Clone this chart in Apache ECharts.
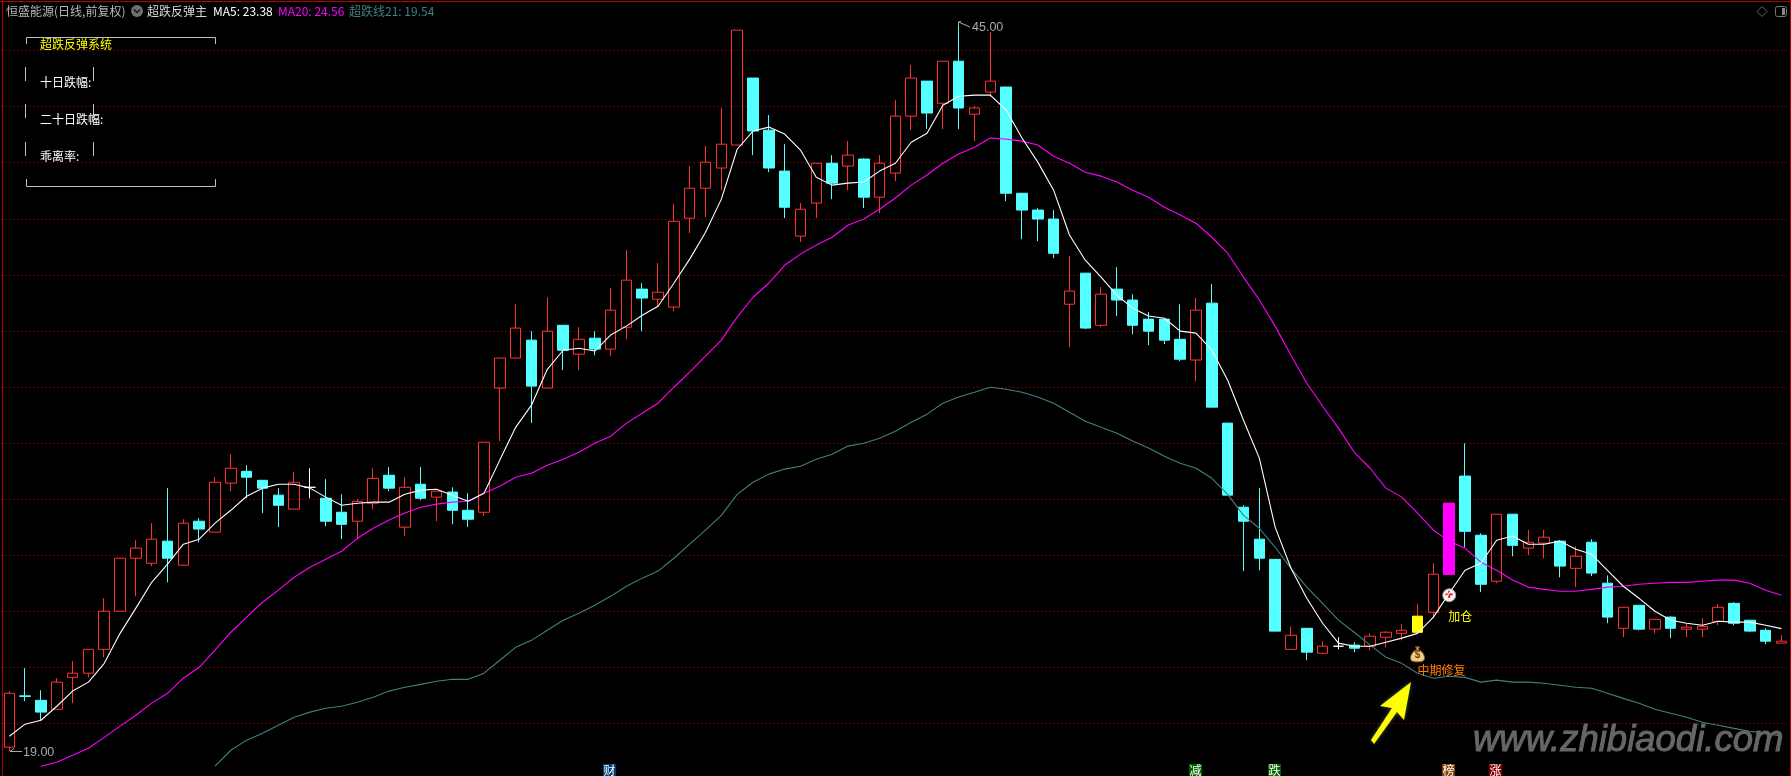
<!DOCTYPE html>
<html>
<head>
<meta charset="utf-8">
<title>恒盛能源 超跌反弹主</title>
<style>
  html, body { margin: 0; padding: 0; background: #000; }
  #chart { width: 1791px; height: 776px; }
</style>
<script src="https://cdn.jsdelivr.net/npm/echarts@6/dist/echarts.min.js"></script>
</head>
<body>
<div id="chart"></div>
<script>
// 日线数据，从图上读出来的估计值
const opens = [
  19.15,20.98,20.82,20.50,21.64,21.79,22.64,24.00,25.89,25.71,
  26.50,25.64,27.21,26.82,28.57,28.99,28.67,28.14,27.64,28.42,
  28.03,27.53,27.21,27.85,28.85,27.00,28.53,28.07,28.25,27.60,
  27.53,31.96,33.03,33.67,31.96,34.20,33.17,33.74,33.35,34.13,
  35.49,35.13,34.85,38.02,39.09,39.81,40.63,43.02,41.16,39.70,
  37.38,38.56,39.98,39.88,40.13,38.77,39.63,41.66,42.91,42.12,
  43.62,41.73,42.52,42.70,38.91,38.31,37.99,34.95,36.06,34.20,
  35.49,35.10,34.42,34.42,33.70,32.96,34.99,30.71,27.71,26.57,
  25.85,22.64,23.39,22.50,22.75,22.79,22.75,23.07,23.21,23.25,
  23.96,25.32,28.82,26.71,25.07,27.46,26.25,26.43,26.50,25.53,
  26.46,25.00,23.39,24.21,23.36,23.79,23.36,23.36,23.64,24.28,
  23.68,23.32,22.86
]
const closes = [
  21.07,20.96,20.40,21.47,21.79,22.64,24.00,25.89,26.25,26.57,
  25.89,27.14,26.93,28.60,29.10,28.78,28.39,27.78,28.60,28.42,
  27.21,27.10,27.92,28.74,28.39,28.42,28.03,28.28,27.60,27.28,
  30.03,33.03,34.10,32.03,33.99,33.31,33.70,33.35,34.74,35.81,
  35.17,35.38,37.91,39.09,40.02,40.66,44.73,41.13,39.81,38.41,
  38.34,39.98,39.27,40.27,38.77,39.98,41.66,43.02,41.77,43.62,
  41.95,41.95,42.91,38.91,38.31,37.99,36.77,35.42,34.10,35.31,
  35.10,34.20,33.99,33.67,32.99,34.74,31.28,28.14,27.21,25.89,
  23.29,23.14,22.54,22.75,22.75,22.68,23.11,23.25,23.32,23.82,
  25.32,27.85,26.85,24.96,27.46,26.35,26.46,26.64,25.61,25.96,
  25.36,23.79,24.14,23.36,23.71,23.39,23.43,23.46,24.14,23.57,
  23.29,22.93,22.93
]
const lows = [
  19.00,20.79,20.11,20.50,20.72,21.64,22.36,24.00,24.53,25.61,
  25.03,25.64,26.46,26.82,28.28,28.03,27.50,27.00,27.64,28.03,
  27.03,26.57,26.57,27.64,28.28,26.68,27.96,27.21,27.10,27.00,
  27.39,30.07,33.03,30.71,31.96,32.60,32.60,33.13,33.10,33.70,
  33.99,34.85,34.70,37.49,38.06,39.02,40.63,40.27,39.66,38.02,
  37.17,38.02,38.70,39.02,38.38,38.20,39.34,41.16,41.20,41.20,
  41.20,40.77,42.34,38.63,37.27,37.20,36.59,33.42,34.06,34.13,
  34.53,33.88,33.49,33.53,32.92,32.21,31.28,28.14,25.43,25.46,
  23.29,22.64,22.25,22.47,22.64,22.54,22.61,22.71,22.96,23.25,
  23.75,25.32,26.28,24.68,25.00,25.96,26.00,25.89,25.21,24.86,
  25.25,23.57,23.07,23.32,23.21,23.04,23.07,23.07,23.50,23.50,
  23.25,22.82,22.86
]
const highs = [
  21.15,21.97,21.18,21.61,22.22,22.64,24.46,25.89,26.53,27.14,
  28.39,27.28,27.32,28.78,29.60,29.21,28.67,28.39,28.96,29.10,
  28.71,28.17,28.00,29.10,29.14,28.78,29.14,28.28,28.42,28.21,
  30.03,33.03,34.95,33.99,35.20,34.20,34.13,33.99,35.52,36.88,
  35.70,36.42,38.52,39.88,40.59,41.95,44.73,43.02,41.70,40.66,
  38.56,39.98,40.27,40.77,40.16,40.27,42.23,43.48,42.91,43.62,
  45.00,42.02,44.66,42.70,38.91,38.38,38.31,36.67,36.06,35.56,
  36.27,35.31,34.67,34.42,34.95,35.17,35.67,30.71,27.78,28.39,
  25.85,23.46,23.39,22.93,23.07,22.89,23.21,23.29,23.54,24.25,
  25.71,27.85,29.99,26.78,27.46,27.46,26.89,26.89,26.53,26.32,
  26.57,25.28,24.14,24.21,23.71,23.82,23.54,23.75,24.25,24.32,
  23.68,23.39,23.14
]
const ma5 = [
  19.54,19.97,20.11,20.61,21.15,21.47,22.14,23.21,24.11,25.03,
  25.68,26.39,26.57,27.14,27.60,28.10,28.39,28.53,28.53,28.39,
  28.07,27.78,27.85,27.89,27.89,28.17,28.32,28.35,28.14,27.92,
  28.21,29.39,30.56,31.35,32.63,33.31,33.38,33.28,33.85,34.17,
  34.56,34.88,35.70,36.56,37.52,38.70,40.48,41.13,41.27,41.02,
  40.45,39.48,39.20,39.27,39.31,39.70,39.98,40.73,41.05,42.05,
  42.37,42.41,42.41,41.88,40.88,40.02,39.02,37.42,36.52,35.92,
  35.27,34.81,34.53,34.45,33.99,33.92,33.31,32.24,30.81,29.46,
  27.00,25.53,24.46,23.57,22.86,22.75,22.75,22.89,23.04,23.21,
  23.79,24.64,25.46,25.71,26.53,26.68,26.39,26.39,26.50,26.21,
  26.03,25.46,24.89,24.46,24.00,23.68,23.57,23.50,23.64,23.61,
  23.61,23.50,23.38
]
// 前面不足周期的位置为 null
const ma20 = [
  null,null,
  18.47,18.61,18.86,19.11,19.50,19.90,20.29,20.72,21.07,21.61,
  22.00,22.61,23.25,23.79,24.32,24.75,25.21,25.57,25.85,26.14,
  26.60,26.96,27.25,27.50,27.71,27.82,27.89,27.92,28.21,28.46,
  28.78,28.92,29.21,29.42,29.67,29.99,30.24,30.71,31.06,31.42,
  31.99,32.53,33.10,33.67,34.49,35.20,35.70,36.34,36.74,37.06,
  37.34,37.77,37.99,38.34,38.74,39.20,39.56,39.98,40.31,40.55,
  40.88,40.84,40.77,40.63,40.23,39.98,39.66,39.52,39.31,39.02,
  38.77,38.41,38.13,37.84,37.34,36.77,35.92,35.10,34.17,33.13,
  32.13,31.31,30.53,29.67,29.10,28.39,28.07,27.50,26.89,26.50,
  26.25,25.75,25.46,25.11,24.86,24.78,24.71,24.71,24.78,24.86,
  24.89,24.96,25.00,25.03,25.03,25.07,25.11,25.11,25.00,24.75,24.57
]
const oversoldLine = [
  null,null,null,null,null,null,null,null,null,null,null,null,null,
  18.47,19.04,19.40,19.65,19.93,20.22,20.40,20.54,20.61,20.75,
  20.93,21.15,21.29,21.39,21.50,21.57,21.57,21.79,22.25,22.71,
  22.96,23.32,23.68,23.93,24.21,24.53,24.89,25.18,25.43,25.89,
  26.39,26.89,27.42,28.17,28.60,28.89,29.07,29.17,29.42,29.60,
  29.89,29.99,30.17,30.42,30.74,31.03,31.42,31.64,31.81,31.99,
  31.92,31.81,31.64,31.42,31.10,30.78,30.56,30.35,30.07,29.82,
  29.53,29.28,29.10,28.74,28.17,27.42,26.96,26.28,25.53,24.86,
  24.28,23.68,23.25,22.79,22.36,22.14,21.79,21.61,21.68,21.64,
  21.47,21.54,21.47,21.47,21.43,21.36,21.29,21.25,21.07,20.89,
  20.72,20.50,20.36,20.22,20.04,19.93,19.82,19.72,19.65,19.54
]
const categories = opens.map((v, i) => String(i + 1))
const whiteDojis = [19, 84]
const yellowBars = [89]
const magentaBars = [91]

const upColor = '#ff3232'
const downColor = '#54ffff'
const lineStyleOf = (color, width) => ({ color: color, width: width || 1 })

function candleItem(i) {
  const row = [opens[i], closes[i], lows[i], highs[i]]
  if (whiteDojis.indexOf(i) >= 0) {
    return { value: row, itemStyle: { borderColor: '#fff', borderColor0: '#fff', borderColorDoji: '#fff' } }
  }
  if (closes[i] === opens[i] || Math.abs(closes[i] - opens[i]) < 0.03) {
    return { value: row, itemStyle: { borderColor: downColor, borderColor0: downColor, borderColorDoji: downColor } }
  }
  return row
}

function bodyOnly(indexes, color) {
  return categories.map((c, i) => {
    if (indexes.indexOf(i) < 0) return ['-', '-', '-', '-']
    return {
      value: [opens[i], closes[i], opens[i], closes[i]],
      itemStyle: { color: color, color0: color, borderColor: color, borderColor0: color }
    }
  })
}

const cjk = '"Noto Sans CJK SC", sans-serif'
const numberFont = '"Liberation Sans", sans-serif'
const bagPath = 'path://M9 0 L15 0 L13 4 C19 7 23 13 23 18 C23 23 18 24 12 24 C6 24 1 23 1 18 C1 13 5 7 11 4 Z'

const chart = echarts.init(document.getElementById('chart'), null, { renderer: 'canvas' })

function txt(x, y, text, color, font) {
  return {
    type: 'text', x: x, y: y, silent: true, z: 20,
    style: { text: text, fill: color, font: font || ('12px ' + cjk), textVerticalAlign: 'middle' }
  }
}
function seg(x1, y1, x2, y2, color, w) {
  return {
    type: 'line', silent: true, z: 20,
    shape: { x1: x1, y1: y1, x2: x2, y2: y2 },
    style: { stroke: color, lineWidth: w || 1 }
  }
}
function badge(x, text, bg) {
  return [
    { type: 'rect', silent: true, z: 20, shape: { x: x, y: 764, width: 13, height: 12 }, style: { fill: bg } },
    {
      type: 'text', silent: true, z: 21, x: x + 0.5, y: 770,
      style: { text: text, fill: '#fff', font: '12px ' + cjk, textVerticalAlign: 'middle' }
    }
  ]
}

const frameColor = '#b00000'
const panelColor = '#c0c0c0'
const graphics = [
  // 外框
  seg(2.5, 0, 2.5, 776, frameColor),
  seg(0, 1.5, 1791, 1.5, frameColor),
  seg(1790.5, 0, 1790.5, 776, frameColor),
  // 顶部标题
  txt(6, 11, '恒盛能源(日线,前复权)', '#b8b8b8'),
  { type: 'circle', silent: true, z: 20, shape: { cx: 137, cy: 11, r: 6 }, style: { fill: '#707070' } },
  {
    type: 'polyline', silent: true, z: 21,
    shape: { points: [[134, 9.5], [137, 12.5], [140, 9.5]] },
    style: { stroke: '#111', lineWidth: 1.5, fill: 'none' }
  },
  txt(147, 11, '超跌反弹主', '#d8d8d8'),
  txt(213, 11, 'MA5: 23.38', '#ffffff'),
  txt(278, 11, 'MA20: 24.56', '#ff00ff'),
  txt(349, 11, '超跌线21: 19.54', '#408080'),
  // 右上角图标
  {
    type: 'polygon', silent: true, z: 20,
    shape: { points: [[1762, 6.5], [1767, 11.5], [1762, 16.5], [1757, 11.5]] },
    style: { fill: 'none', stroke: '#666' }
  },
  {
    type: 'rect', silent: true, z: 20,
    shape: { x: 1775.5, y: 6.5, width: 11, height: 10, r: 2 },
    style: { fill: 'none', stroke: '#777' }
  },
  { type: 'rect', silent: true, z: 20, shape: { x: 1782, y: 8, width: 3, height: 7 }, style: { fill: '#888' } },
  // 左上角面板
  seg(26.5, 37.5, 215.5, 37.5, panelColor),
  seg(26.5, 37.5, 26.5, 44, panelColor),
  seg(215.5, 37.5, 215.5, 44, panelColor),
  seg(26.5, 186.5, 215.5, 186.5, panelColor),
  seg(26.5, 179, 26.5, 186.5, panelColor),
  seg(215.5, 179, 215.5, 186.5, panelColor),
  seg(25.5, 67, 25.5, 81, panelColor),
  seg(93.5, 67, 93.5, 81, panelColor),
  seg(25.5, 104, 25.5, 118, panelColor),
  seg(93.5, 104, 93.5, 118, panelColor),
  seg(25.5, 142, 25.5, 156, panelColor),
  seg(93.5, 142, 93.5, 156, panelColor),
  txt(40, 44, '超跌反弹系统', '#ffff00'),
  txt(40, 82, '十日跌幅:', '#ffffff'),
  txt(40, 119, '二十日跌幅:', '#ffffff'),
  txt(40, 156, '乖离率:', '#ffffff'),
  // 最低价、最高价的小箭头
  seg(10, 751.5, 22, 751.5, '#aaa'),
  seg(10, 751.5, 14, 748.5, '#aaa'),
  seg(958.5, 22, 970, 27, '#aaa'),
  seg(958.5, 22, 958.5, 26, '#aaa'),
  seg(958.5, 22, 961, 21.5, '#aaa'),
  txt(23, 752.5, '19.00', '#aaa', '12.5px ' + numberFont),
  txt(972, 27.5, '45.00', '#aaa', '12.5px ' + numberFont),
  // 黄色箭头
  {
    type: 'polygon', silent: true, z: 22,
    shape: { points: [[1411, 682], [1380, 706], [1392, 708], [1371, 740], [1374, 744], [1397, 712], [1404, 720]] },
    style: { fill: '#ffff00', shadowBlur: 4, shadowColor: 'rgba(255,255,255,0.3)' }
  },
  // 水印
  {
    type: 'text', silent: true, z: 15, x: 1473, y: 741,
    style: {
      text: 'www.zhibiaodi.com', fill: '#666666',
      font: 'italic 36.5px "Liberation Sans", sans-serif',
      textVerticalAlign: 'middle',
      stroke: '#666666', lineWidth: 1,
      shadowBlur: 3, shadowColor: 'rgba(255,255,255,0.12)'
    }
  }
]
  .concat(badge(603, '财', '#003c78'))
  .concat(badge(1189, '减', '#006000'))
  .concat(badge(1268, '跌', '#006000'))
  .concat(badge(1442, '榜', '#804000'))
  .concat(badge(1489, '涨', '#800000'))

chart.setOption({
  animation: false,
  backgroundColor: '#000',
  grid: { left: 1.4, right: 1.6, top: -5.5, bottom: -3.4, outerBoundsMode: 'none' },
  xAxis: {
    type: 'category',
    data: categories,
    boundaryGap: true,
    axisLine: { show: false },
    axisTick: { show: false },
    axisLabel: { show: false },
    splitLine: { show: false }
  },
  yAxis: {
    type: 'value',
    min: 18,
    max: 46,
    interval: 2,
    axisLine: { show: false },
    axisTick: { show: false },
    axisLabel: { show: false },
    splitLine: { lineStyle: { color: '#cc0000', width: 1, type: [1, 3] } }
  },
  series: [
    {
      name: 'K线',
      type: 'candlestick',
      barWidth: 11,
      z: 2,
      data: categories.map((c, i) => candleItem(i)),
      itemStyle: {
        color: 'transparent',
        color0: downColor,
        borderColor: upColor,
        borderColor0: downColor,
        borderColorDoji: upColor,
        borderWidth: 1
      }
    },
    {
      name: '信号',
      type: 'candlestick',
      barWidth: 11,
      z: 3,
      data: categories.map((c, i) => {
        if (yellowBars.indexOf(i) >= 0) return bodyOnly(yellowBars, '#ffff00')[i]
        if (magentaBars.indexOf(i) >= 0) return bodyOnly(magentaBars, '#ff00ff')[i]
        return ['-', '-', '-', '-']
      })
    },
    {
      name: 'MA5',
      type: 'line',
      data: ma5,
      symbol: 'none',
      z: 5,
      lineStyle: lineStyleOf('#ffffff', 1.1),
      markPoint: {
        silent: true,
        data: [
          {
            coord: [91, 24.57],
            symbol: 'circle',
            symbolSize: 13,
            itemStyle: { color: '#f4f4f4', borderColor: '#999', borderWidth: 1 },
            label: { show: true, formatter: '✚', color: '#ee1111', fontSize: 10, position: 'inside' }
          },
          {
            coord: [89, 22.46],
            symbol: bagPath,
            symbolSize: [14, 15],
            itemStyle: { color: '#ecd084', borderColor: '#8a5a20', borderWidth: 1 },
            label: { show: true, formatter: '$', color: '#7a4010', fontSize: 10, fontWeight: 'bold', position: 'inside', offset: [0, 1] }
          },
          {
            coord: [91, 23.82],
            symbol: 'circle',
            symbolSize: 0,
            label: { show: true, formatter: '加仓', color: '#ffff00', position: 'right', fontSize: 12, fontFamily: cjk, offset: [-6, 0] }
          },
          {
            coord: [89, 21.87],
            symbol: 'circle',
            symbolSize: 0,
            label: { show: true, formatter: '中期修复', color: '#ff8000', position: 'right', fontSize: 12, fontFamily: cjk, offset: [-5, 0] }
          }
        ]
      }
    },
    { name: 'MA20', type: 'line', data: ma20, symbol: 'none', z: 4, lineStyle: lineStyleOf('#ff00ff', 1.1) },
    { name: '超跌线21', type: 'line', data: oversoldLine, symbol: 'none', z: 4, lineStyle: lineStyleOf('#408080', 1.1) }
  ],
  graphic: graphics
})
</script>
</body>
</html>
